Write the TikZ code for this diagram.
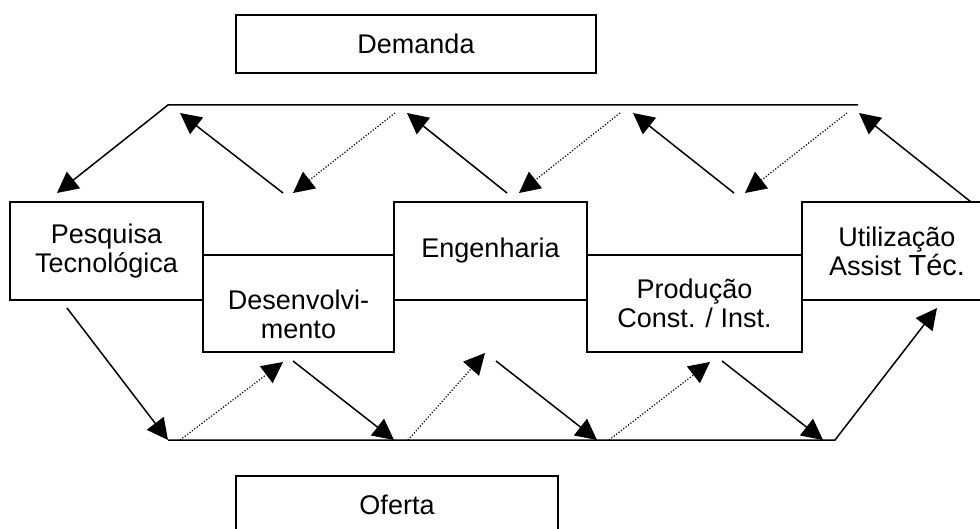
\documentclass[tikz,border=0pt]{standalone}
\usepackage{fontspec}
\setmainfont{Liberation Sans}
\usetikzlibrary{positioning,calc,arrows,arrows.meta}
\tikzset{font=\fontsize{13.5}{14.5}\selectfont}

\begin{document}
\begin{tikzpicture}[x=0.5pt, y=-0.5pt, line width=0.75pt]
	\useasboundingbox (0,0) rectangle (980,529);
	\begin{scope}
		\tikzstyle{box}=[draw, align=center, inner sep=1pt, minimum height=49pt]
		\tikzstyle{arr}=[-{Triangle[length=10.5pt, width=10.5pt]}]
		\tikzstyle{dotarr}=[arr, line width=0.6pt, dash pattern=on 0.6pt off 0.9pt]

		% blocos
		\node[box, minimum width=180pt, minimum height=29pt] (demanda) at (416,44) {Demanda};
		\node[box, minimum width=161pt, minimum height=29pt] (oferta) at (397,505) {Oferta};
		\node[box, minimum width=96.5pt] (pesquisa) at (106.5,251) {Pesquisa\\Tecnológica};
		\node[box, minimum width=95.5pt, minimum height=48.5pt] (desenv) at (298.5,303.5) {\rule{0pt}{21pt}Desenvolvi-\\mento};
		\node[box, minimum width=96.5pt] (engenharia) at (490.5,251) {Engenharia};
		\node[box, minimum width=107.5pt, minimum height=48.5pt] (producao) at (694.5,303.5) {Produção\\Const. / Inst.};
		\node[box, minimum width=95pt] (utilizacao) at (897,251) {Utilização\\Assist {\fontsize{14.5}{14.5}\selectfont Téc.}};

		% pontos de demanda
		\coordinate (dl) at (168,105);
		\coordinate (dr) at (858,105);
		\coordinate (d1) at (57,193);
		\coordinate (d2a) at (283,193);  \coordinate (d2b) at (180,113);
		\coordinate (d3a) at (395,113);  \coordinate (d3b) at (293,193);
		\coordinate (d4a) at (507,193);  \coordinate (d4b) at (407,113);
		\coordinate (d5a) at (620,113);  \coordinate (d5b) at (519,193);
		\coordinate (d6a) at (734,193);  \coordinate (d6b) at (633,113);
		\coordinate (d7a) at (847,113);  \coordinate (d7b) at (745,193);
		\coordinate (d8a) at (971,202);  \coordinate (d8b) at (859,113);

		% pontos de oferta
		\coordinate (ol) at (168,440);
		\coordinate (or) at (835,440);
		\coordinate (o1) at (67,308);
		\coordinate (o2a) at (180,440);  \coordinate (o2b) at (283,362);
		\coordinate (o3a) at (293,361);  \coordinate (o3b) at (394,440);
		\coordinate (o4a) at (408,440);  \coordinate (o4b) at (485,353);
		\coordinate (o5a) at (496,361);  \coordinate (o5b) at (597,440);
		\coordinate (o6a) at (609,440);  \coordinate (o6b) at (710,362);
		\coordinate (o7a) at (722,361);  \coordinate (o7b) at (823,440);
		\coordinate (o8) at (937,308);

		\draw[arr] (dr) -- (dl) -- (d1);
		\draw[arr] (d2a) -- (d2b);
		\draw[dotarr] (d3a) -- (d3b);
		\draw[arr] (d4a) -- (d4b);
		\draw[dotarr] (d5a) -- (d5b);
		\draw[arr] (d6a) -- (d6b);
		\draw[dotarr] (d7a) -- (d7b);
		\draw[arr] (d8a) -- (d8b);

		\draw[arr] (o1) -- (ol);
		\draw[arr] (ol) -- (or) -- (o8);
		\draw[dotarr] (o2a) -- (o2b);
		\draw[arr] (o3a) -- (o3b);
		\draw[dotarr] (o4a) -- (o4b);
		\draw[arr] (o5a) -- (o5b);
		\draw[dotarr] (o6a) -- (o6b);
		\draw[arr] (o7a) -- (o7b);

	\end{scope}
\end{tikzpicture}
\end{document}
